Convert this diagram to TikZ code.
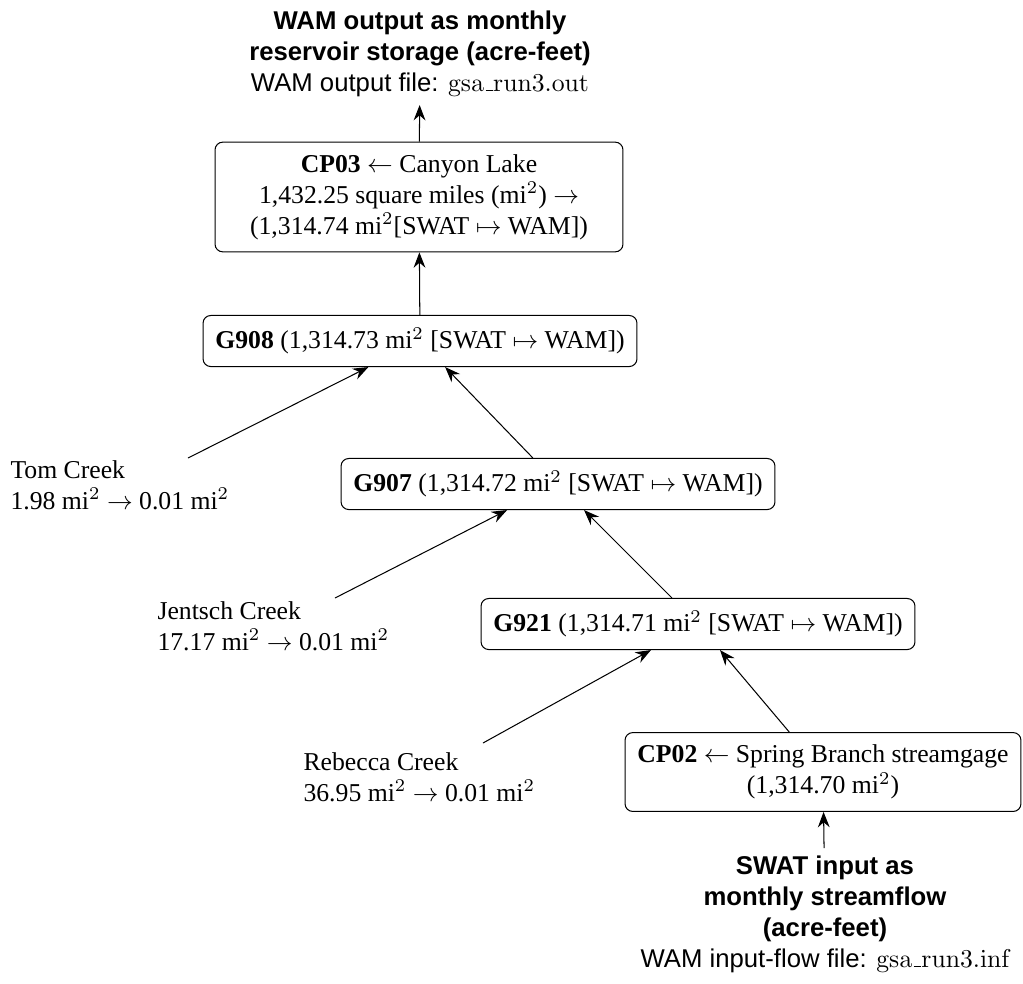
\documentclass[tikz,border=0pt]{standalone}
\usepackage[no-math]{fontspec}
\setmainfont{Liberation Serif}
\setsansfont{Liberation Sans}
\usetikzlibrary{arrows.meta,calc}
\newcommand{\wamfile}[1]{{\usefont{OT1}{cmr}{m}{n}#1}}
\tikzset{
  reach/.style={draw, rounded corners=3pt, align=center, inner xsep=4.8pt, inner ysep=4.8pt},
  inflow/.style={align=left, inner sep=0pt},
  wamnote/.style={align=center, inner sep=3pt, font=\sffamily},
  flow/.style={-{Stealth[length=6pt,width=4.6pt,inset=2pt]}}
}
\begin{document}
\begin{tikzpicture}[x=0.389pt,y=0.389pt,yscale=-1,xscale=1]
			\useasboundingbox (0,0) rectangle (1023,983); %picture is 1023 wide and 983 high
			
			%Output note
			\node[wamnote, anchor=south] (out) at (420,105) {\textbf{WAM output as monthly}\\\textbf{reservoir storage (acre-feet)}\\WAM output file: \wamfile{gsa\_run3.out}};
			%Control point at the lake
			\node[reach, minimum width=158.7pt] (CP03) at (419,197) {\textbf{CP03} $\leftarrow$ Canyon Lake\\1,432.25 square miles (mi$^2$) $\rightarrow$\\(1,314.74 mi$^2$[SWAT $\mapsto$ WAM])};
			%Reaches
			\node[reach] (G908) at (420,341) {\textbf{G908} (1,314.73 mi$^2$ [SWAT $\mapsto$ WAM])};
			\node[reach] (G907) at (558,484) {\textbf{G907} (1,314.72 mi$^2$ [SWAT $\mapsto$ WAM])};
			\node[reach] (G921) at (698,624) {\textbf{G921} (1,314.71 mi$^2$ [SWAT $\mapsto$ WAM])};
			%Control point at the gage
			\node[reach] (CP02) at (823,772) {\textbf{CP02} $\leftarrow$ Spring Branch streamgage\\(1,314.70 mi$^2$)};
			%Input note
			\node[wamnote, anchor=north] (in) at (825,848) {\textbf{SWAT input as}\\\textbf{monthly streamflow}\\\textbf{(acre-feet)}\\WAM input-flow file: \wamfile{gsa\_run3.inf}};
			%Creeks
			\node[inflow, anchor=north west] (tom) at (10,460) {Tom Creek\\1.98 mi$^2$ $\rightarrow$ 0.01 mi$^2$};
			\node[inflow, anchor=north west] (jentsch) at (157,601) {Jentsch Creek\\17.17 mi$^2$ $\rightarrow$ 0.01 mi$^2$};
			\node[inflow, anchor=north west] (rebecca) at (303,752) {Rebecca Creek\\36.95 mi$^2$ $\rightarrow$ 0.01 mi$^2$};
			
			%Arrows
			\draw[flow] (CP03) -- (out);
			\draw[flow] (G908) -- (CP03);
			\draw[flow] (G907) -- (G908);
			\draw[flow] ($(tom.north west)+(178,-2)$) -- (G908);
			\draw[flow] (G921) -- (G907);
			\draw[flow] ($(jentsch.north west)+(178,-3)$) -- (G907);
			\draw[flow] (CP02) -- (G921);
			\draw[flow] ($(rebecca.north west)+(180,-9)$) -- (G921);
			\draw[flow] (in) -- (CP02);
			
		\end{tikzpicture}
\end{document}
